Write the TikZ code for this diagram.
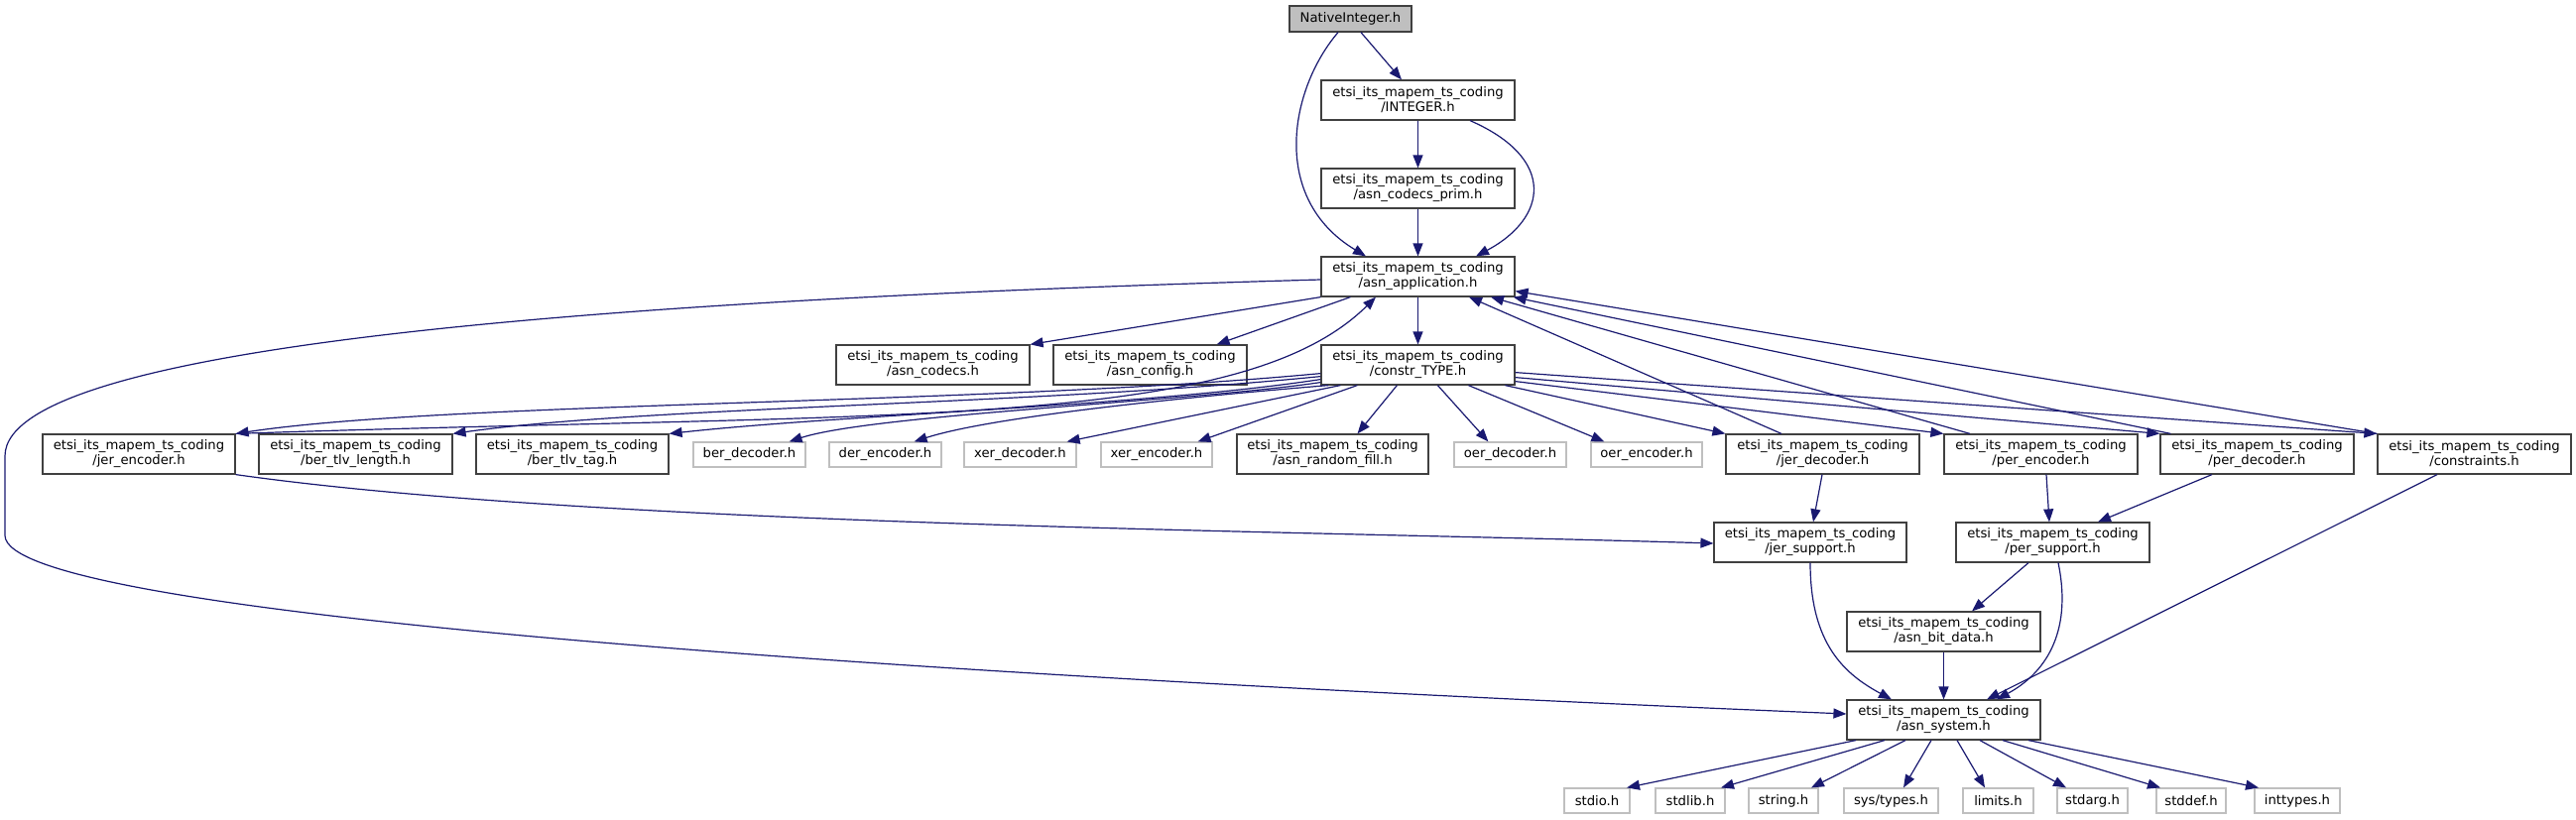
\documentclass[tikz,border=0pt]{standalone}
\usepackage{fontspec}
\setmainfont{DejaVu Sans}
\usetikzlibrary{arrows.meta,calc}
\definecolor{edgec}{RGB}{25,25,112}
\definecolor{bordc}{RGB}{64,64,64}
\definecolor{greyb}{RGB}{191,191,191}
\definecolor{rootg}{RGB}{191,191,191}
\tikzset{
  hdr/.style={draw=bordc, line width=1.2pt, fill=white, minimum width=195pt, minimum height=40pt,
    inner sep=0pt, align=center, font=\fontsize{13.2}{15}\selectfont},
  sysh/.style={draw=greyb, line width=1.2pt, fill=white, minimum height=25pt, inner sep=0pt,
    font=\fontsize{13.2}{15}\selectfont},
  dep/.style={draw=edgec, line width=1.2pt, -{Triangle[length=13pt,width=10pt]}}
}
\newcommand{\pfx}{etsi\_its\_mapem\_ts\_coding\\}
\begin{document}
\begin{tikzpicture}[x=1pt,y=-1pt]
\useasboundingbox (0,0) rectangle (2597,827);
% nodes
\node[hdr, fill=rootg, minimum width=123pt, minimum height=26pt] (native) at (1361.5,19) {NativeInteger.h};
\node[hdr] (integer) at (1429.5,101) {\pfx/INTEGER.h};
\node[hdr] (prim) at (1429.5,190) {\pfx/asn\_codecs\_prim.h};
\node[hdr] (app) at (1429.5,279) {\pfx/asn\_application.h};
\node[hdr] (codecs) at (940.5,368) {\pfx/asn\_codecs.h};
\node[hdr] (config) at (1159.5,368) {\pfx/asn\_config.h};
\node[hdr] (constr) at (1429.5,368) {\pfx/constr\_TYPE.h};
\node[hdr, minimum width=194pt] (jerenc) at (140,458) {\pfx/jer\_encoder.h};
\node[hdr] (tlvlen) at (358.5,458) {\pfx/ber\_tlv\_length.h};
\node[hdr, minimum width=194pt] (tlvtag) at (577,458) {\pfx/ber\_tlv\_tag.h};
\node[sysh, minimum width=113pt] (berdec) at (755.5,458.5) {ber\_decoder.h};
\node[sysh, minimum width=113pt] (derenc) at (892.5,458.5) {der\_encoder.h};
\node[sysh, minimum width=113pt] (xerdec) at (1028.5,458.5) {xer\_decoder.h};
\node[sysh, minimum width=112pt] (xerenc) at (1166,458.5) {xer\_encoder.h};
\node[hdr, minimum width=193pt] (randfill) at (1343.5,458) {\pfx/asn\_random\_fill.h};
\node[sysh, minimum width=113pt] (oerdec) at (1522.5,458.5) {oer\_decoder.h};
\node[sysh, minimum width=112pt] (oerenc) at (1660,458.5) {oer\_encoder.h};
\node[hdr] (jerdec) at (1837.5,458) {\pfx/jer\_decoder.h};
\node[hdr] (perenc) at (2057.5,458) {\pfx/per\_encoder.h};
\node[hdr] (perdec) at (2275.5,458) {\pfx/per\_decoder.h};
\node[hdr] (constraints) at (2494.5,458) {\pfx/constraints.h};
\node[hdr, minimum width=194pt] (jersup) at (1825,547) {\pfx/jer\_support.h};
\node[hdr] (persup) at (2069.5,547) {\pfx/per\_support.h};
\node[hdr] (bitdata) at (1959.5,637) {\pfx/asn\_bit\_data.h};
\node[hdr] (system) at (1959.5,726) {\pfx/asn\_system.h};
\node[sysh, minimum width=66pt] (stdio) at (1610,807.5) {stdio.h};
\node[sysh, minimum width=70pt] (stdlib) at (1704,807.5) {stdlib.h};
\node[sysh, minimum width=70pt] (string) at (1798,807.5) {string.h};
\node[sysh, minimum width=95pt] (systypes) at (1906.5,807.5) {sys/types.h};
\node[sysh, minimum width=71pt] (limits) at (2014.5,807.5) {limits.h};
\node[sysh, minimum width=71pt] (stdarg) at (2109.5,807.5) {stdarg.h};
\node[sysh, minimum width=70pt] (stddef) at (2209,807.5) {stddef.h};
\node[sysh, minimum width=86pt] (inttypes) at (2316,807.5) {inttypes.h};
% top edges
\draw[dep] ([xshift=10.5]native.south) -- ([xshift=-16.5]integer.north);
\draw[dep] ([xshift=-12.5]native.south) .. controls (1300,90) and (1280,200) .. ([xshift=-52.5]app.north);
\draw[dep] (integer.south) -- (prim.north);
\draw[dep] ([xshift=52.5]integer.south) .. controls (1570,160) and (1560,220) .. ([xshift=58.5]app.north);
\draw[dep] (prim.south) -- (app.north);
\draw[dep] (app.south west) -- (codecs.north east);
\draw[dep] ([xshift=30]app.south west) -- ([xshift=-31]config.north east);
\draw[dep] (app.south) -- (constr.north);
% big curve to asn_system
\draw[dep] ([yshift=-3]app.west) .. controls (700,300) and (5,340) .. (5,460) -- (5,540)
  .. controls (5,620) and (900,680) .. ([yshift=6]system.west);
% constr_TYPE to row
\draw[dep] ([yshift=12]constr.south west) .. controls (1000,408) and (450,405) .. (jerenc.north east);
\draw[dep] ([yshift=9]constr.south west) .. controls (1050,408) and (650,410) .. (tlvlen.north east);
\draw[dep] ([yshift=6]constr.south west) .. controls (1150,410) and (850,418) .. (tlvtag.north east);
\draw[dep] ([yshift=3]constr.south west) .. controls (1200,405) and (880,418) .. ([xshift=-17]berdec.north east);
\draw[dep] ([xshift=8]constr.south west) .. controls (1200,400) and (1000,420) .. ([xshift=-28]derenc.north east);
\draw[dep] ([xshift=20]constr.south west) -- ([xshift=-10]xerdec.north east);
\draw[dep] ([xshift=37]constr.south west) -- ([xshift=-15]xerenc.north east);
\draw[dep] ([xshift=77]constr.south west) -- ([xshift=25]randfill.north);
\draw[dep] ([xshift=118]constr.south west) -- ([xshift=35]oerdec.north west);
\draw[dep] ([xshift=149]constr.south west) -- ([xshift=14]oerenc.north west);
\draw[dep] ([xshift=186]constr.south west) -- (jerdec.north west);
\draw[dep] ([yshift=4]constr.south east) -- (perenc.north west);
\draw[dep] ([yshift=8]constr.south east) -- (perdec.north west);
\draw[dep] ([yshift=13]constr.south east) -- (constraints.north west);
% row back to asn_application
\draw[dep] (jerenc.north east) .. controls (900,415) and (1250,435) .. ([xshift=-42.5]app.south);
\draw[dep] ([xshift=-41.5]jerdec.north) -- ([xshift=51.5]app.south);
\draw[dep] ([xshift=-71.5]perenc.north) -- ([xshift=73.5]app.south);
\draw[dep] ([xshift=11]perdec.north west) -- ([xshift=-2]app.south east);
\draw[dep] (constraints.north west) -- ([yshift=6]app.south east);
% lower edges
\draw[dep] (jerenc.south east) .. controls (600,530) and (1300,535) .. ([yshift=-1]jersup.west);
\draw[dep] ([xshift=-0.5]jerdec.south) -- ([xshift=3]jersup.north);
\draw[dep] ([xshift=5.5]perenc.south) -- ([xshift=-3.5]persup.north);
\draw[dep] ([xshift=-45.5]perdec.south) -- ([xshift=45.5]persup.north);
\draw[dep] (jersup.south) .. controls (1825,650) and (1860,680) .. ([xshift=-52.5]system.north);
\draw[dep] ([xshift=-24.5]persup.south) -- ([xshift=28.5]bitdata.north);
\draw[dep] ([xshift=5.5]persup.south) .. controls (2090,640) and (2060,680) .. ([xshift=53.5]system.north);
\draw[dep] (bitdata.south) -- (system.north);
\draw[dep] ([xshift=-37.5]constraints.south) -- ([xshift=43.5]system.north);
% asn_system to std headers
\draw[dep] ([xshift=-88.5]system.south) -- ([xshift=30]stdio.north);
\draw[dep] ([xshift=-59.5]system.south) -- ([xshift=31]stdlib.north);
\draw[dep] ([xshift=-38.5]system.south) -- ([xshift=28]string.north);
\draw[dep] ([xshift=-12.5]system.south) -- ([xshift=12.5]systypes.north);
\draw[dep] ([xshift=13.5]system.south) -- ([xshift=-13.5]limits.north);
\draw[dep] ([xshift=36.5]system.south) -- ([xshift=-26.5]stdarg.north);
\draw[dep] ([xshift=59.5]system.south) -- ([xshift=-31]stddef.north);
\draw[dep] ([xshift=85.5]system.south) -- ([xshift=-39]inttypes.north);
\end{tikzpicture}
\end{document}
